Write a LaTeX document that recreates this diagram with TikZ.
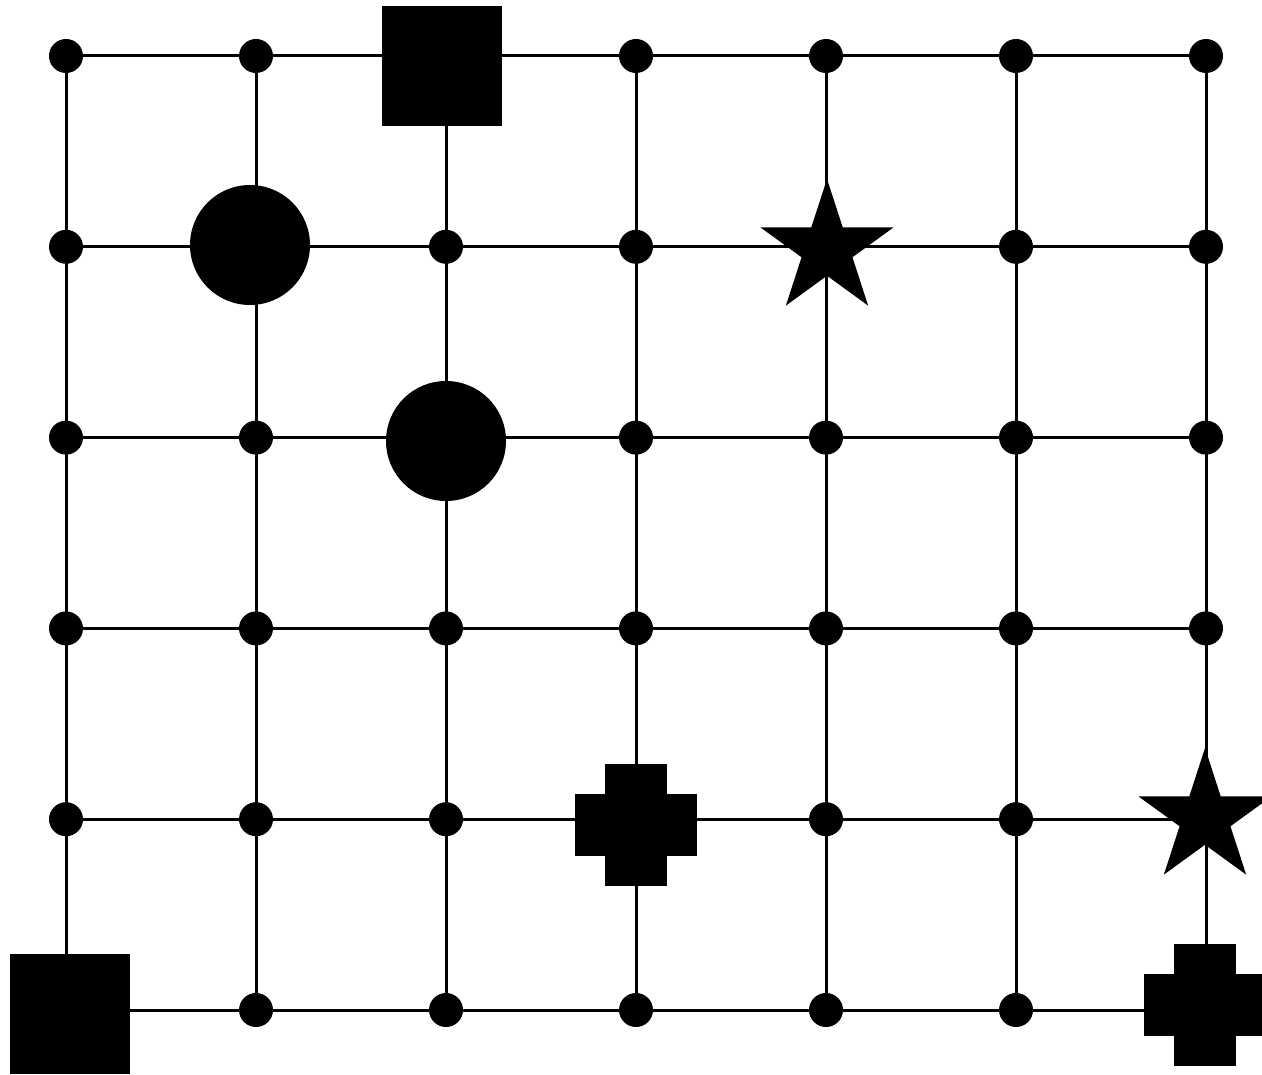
\documentclass[tikz,border=0pt]{standalone}
\usepackage{tikz}
\usetikzlibrary{shapes.geometric}

\begin{document}
\begin{tikzpicture}[x=0.2mm, y=-0.2mm,
  gridline/.style={line width=0.6mm},
  dot/.style={circle, fill, inner sep=0pt, minimum size=6.8mm},
  bigdot/.style={circle, fill, inner sep=0pt, minimum size=24mm},
  block/.style={rectangle, fill, inner sep=0pt, minimum size=24mm},
  starpt/.style={star, star points=5, star point ratio=2.618, fill, inner sep=0pt, minimum size=28mm},
  armh/.style={rectangle, fill, inner sep=0pt, minimum width=24.4mm, minimum height=12.4mm},
  armv/.style={rectangle, fill, inner sep=0pt, minimum width=12.4mm, minimum height=24.4mm}]
\useasboundingbox (0,0) rectangle (1262,1074);

% ---------- grid points ----------
\foreach \i in {0,...,6}
  \foreach \j in {0,...,5}
    \coordinate (g-\i-\j) at (66+190*\i, 56+190.8*\j);

% ---------- lines ----------
\foreach \i in {0,...,6}
  \draw[gridline] (g-\i-0) -- (g-\i-5);
\foreach \j in {0,...,5}
  \draw[gridline] (g-0-\j) -- (g-6-\j);

% ---------- small dots ----------
\foreach \j/\cols in {0/{0,1,3,4,5,6}, 1/{0,2,3,5,6}, 2/{0,1,3,4,5,6},
                      3/{0,1,2,3,4,5,6}, 4/{0,1,2,4,5}, 5/{1,2,3,4,5}}
  \foreach \i in \cols
    \node[dot] (d-\i-\j) at (g-\i-\j) {};

% ---------- pieces ----------
\node[block] (sq-a) at (442,66) {};
\node[block] (sq-b) at (70,1014) {};
\node[bigdot] (ci-a) at (250,245) {};
\node[bigdot] (ci-b) at (446,441) {};
\node[starpt] (st-a) at (827,249) {};
\node[starpt] (st-b) at (1205,818) {};
\node[armh] (pl-a) at (636,825) {};
\node[armv] (pl-av) at (636,825) {};
\node[armh] (pl-b) at (1205,1005) {};
\node[armv] (pl-bv) at (1205,1005) {};
\end{tikzpicture}
\end{document}
